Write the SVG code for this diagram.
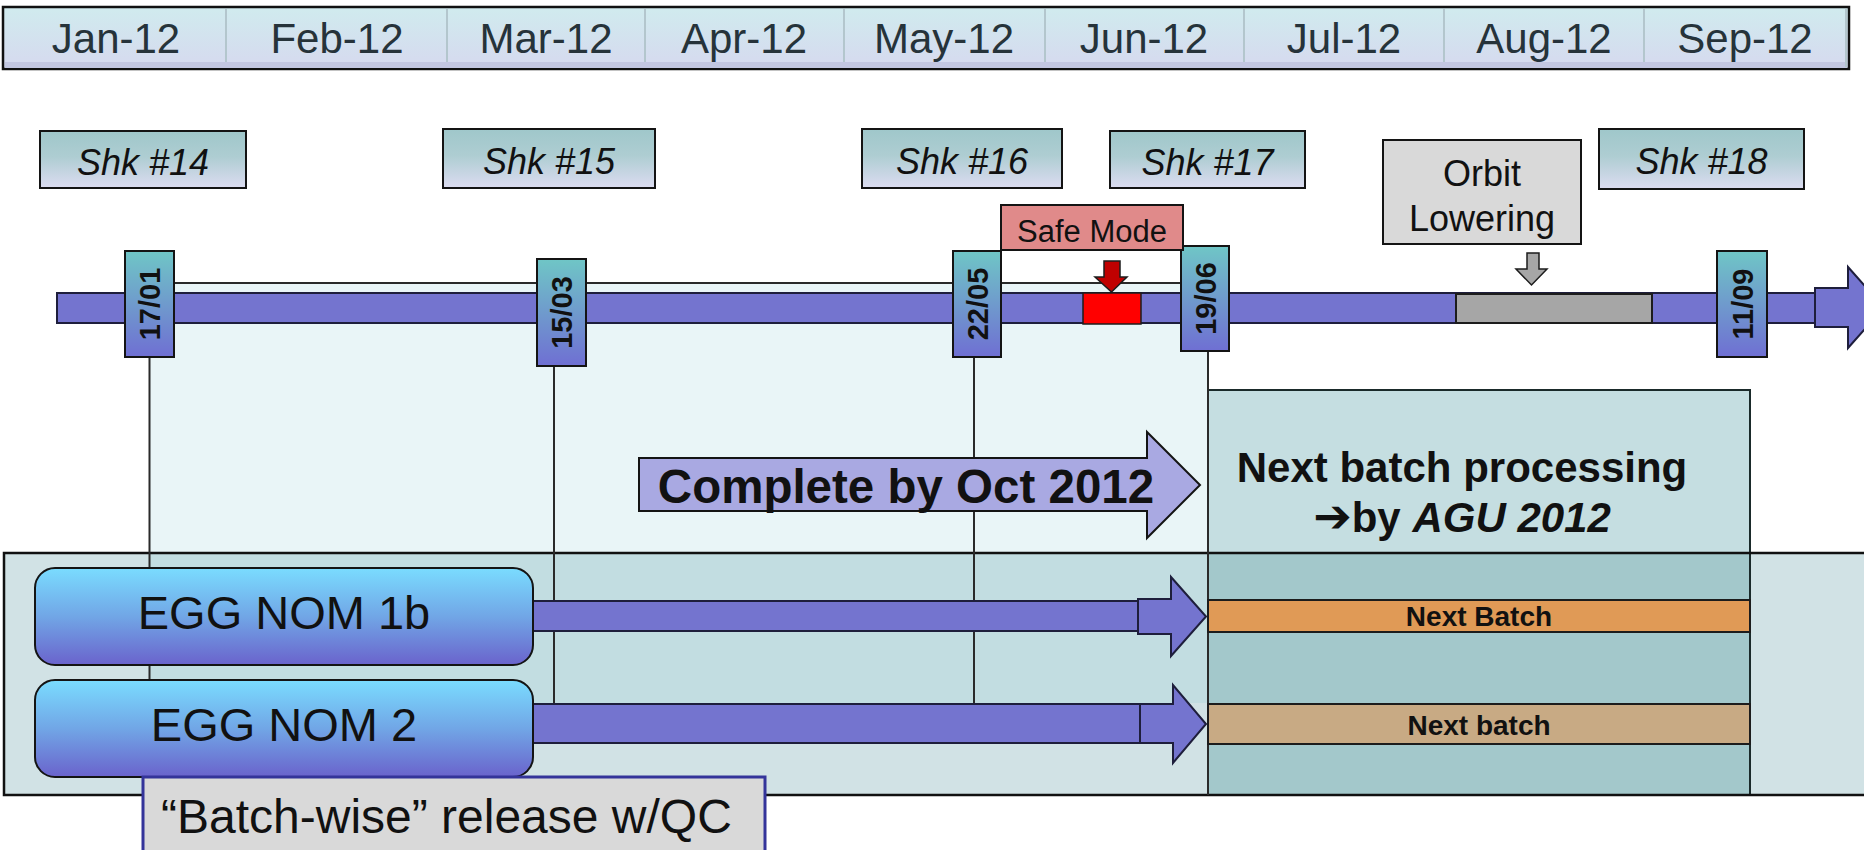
<svg xmlns="http://www.w3.org/2000/svg" width="1864" height="850" viewBox="0 0 1864 850">
  <defs>
    <linearGradient id="gHeader" x1="0" y1="0" x2="0" y2="1">
      <stop offset="0" stop-color="#d0ebee"/>
      <stop offset="1" stop-color="#d6d9ef"/>
    </linearGradient>
    <linearGradient id="gShk" x1="0" y1="0" x2="0" y2="1">
      <stop offset="0" stop-color="#9fc7ca"/>
      <stop offset="0.45" stop-color="#aecdd2"/>
      <stop offset="1" stop-color="#dcdcf1"/>
    </linearGradient>
    <linearGradient id="gTag" x1="0" y1="0" x2="0" y2="1">
      <stop offset="0" stop-color="#6fc6c6"/>
      <stop offset="1" stop-color="#6f6fd3"/>
    </linearGradient>
    <linearGradient id="gEgg" x1="0" y1="0" x2="0" y2="1">
      <stop offset="0" stop-color="#7adcff"/>
      <stop offset="0.5" stop-color="#71a6e6"/>
      <stop offset="1" stop-color="#6a63cc"/>
    </linearGradient>
  </defs>
  <style>
    text { font-family: "Liberation Sans", Arial, Helvetica, sans-serif; }
    .month { font-size: 42px; fill: #26333a; text-anchor: middle; }
    .sep { stroke: #b3c6cd; stroke-width: 2; }
    .shk rect { fill: url(#gShk); stroke: #141414; stroke-width: 2; }
    .shk text { font-size: 36px; font-style: italic; text-anchor: middle; fill: #111; }
    .tag rect { fill: url(#gTag); stroke: #141414; stroke-width: 2; }
    .tag text { font-size: 29px; font-weight: bold; text-anchor: middle; fill: #111; }
    .vline { stroke: #2a2a2a; stroke-width: 2; fill: none; }
    .bar { fill: #7474cf; stroke: #1e1e3c; stroke-width: 2; }
    .box { stroke: #141414; stroke-width: 2; }
    .label { fill: #111; text-anchor: middle; }
    .arrowglyph { font-family: "DejaVu Sans", sans-serif; font-size: 46px; }
    .egg rect { fill: url(#gEgg); stroke: #141414; stroke-width: 2; }
    .egg text { font-size: 47px; text-anchor: middle; fill: #111; }
    .batch rect { stroke: #1c1c1c; stroke-width: 2; }
    .batch text { font-size: 28px; font-weight: bold; text-anchor: middle; fill: #111; }
  </style>

  <!-- month header -->
  <g id="header">
    <rect x="3" y="7" width="1846" height="62" fill="url(#gHeader)" stroke="#111" stroke-width="2.5"/>
    <rect x="5" y="62" width="1842" height="6" fill="#c3c7e1"/>
    <line class="sep" x1="226" y1="9" x2="226" y2="62"/>
    <line class="sep" x1="447" y1="9" x2="447" y2="62"/>
    <line class="sep" x1="645" y1="9" x2="645" y2="62"/>
    <line class="sep" x1="844" y1="9" x2="844" y2="62"/>
    <line class="sep" x1="1045" y1="9" x2="1045" y2="62"/>
    <line class="sep" x1="1244" y1="9" x2="1244" y2="62"/>
    <line class="sep" x1="1444" y1="9" x2="1444" y2="62"/>
    <line class="sep" x1="1644" y1="9" x2="1644" y2="62"/>
    <line class="sep" x1="1846" y1="9" x2="1846" y2="67"/>
    <text class="month" x="116" y="53">Jan-12</text>
    <text class="month" x="337" y="53">Feb-12</text>
    <text class="month" x="546" y="53">Mar-12</text>
    <text class="month" x="744" y="53">Apr-12</text>
    <text class="month" x="944" y="53">May-12</text>
    <text class="month" x="1144" y="53">Jun-12</text>
    <text class="month" x="1344" y="53">Jul-12</text>
    <text class="month" x="1544" y="53">Aug-12</text>
    <text class="month" x="1745" y="53">Sep-12</text>
  </g>

  <!-- background panels -->
  <g id="lower-panel">
    <rect x="4" y="553" width="1870" height="242" fill="#d1e2e5"/>
  </g>
  <g id="release-window">
    <rect x="150" y="283" width="1058" height="420" fill="#7fc4cf" fill-opacity="0.17"/>
  </g>
  <g id="next-batch-column">
    <rect x="1208" y="390" width="542" height="163" fill="#c5dee1"/>
    <rect x="1208" y="553" width="542" height="242" fill="#a3c8cb"/>
    <rect x="1208" y="390" width="542" height="405" fill="none" stroke="#1a2a2a" stroke-width="2"/>
    <text class="label" x="1462" y="482" font-size="42" font-weight="bold">Next batch processing</text>
    <text class="label" x="1462" y="532" font-size="42" font-weight="bold"><tspan class="arrowglyph">➔</tspan>by <tspan font-style="italic">AGU 2012</tspan></text>
  </g>
  <path d="M1874 553 H4 V795 H1874" fill="none" stroke="#111" stroke-width="2.5"/>

  <!-- connectors: tie lines, timeline, event pointers, flows -->
  <g id="connectors">
    <line class="vline" x1="150" y1="283" x2="1208" y2="283"/>
    <line class="vline" x1="149.5" y1="357" x2="149.5" y2="795"/>
    <line class="vline" x1="554" y1="366" x2="554" y2="704"/>
    <line class="vline" x1="974" y1="357" x2="974" y2="704"/>
    <line class="vline" x1="1208" y1="351" x2="1208" y2="795"/>

    <!-- timeline -->
    <rect class="bar" x="57" y="293" width="1758" height="30"/>
    <rect x="1456" y="294" width="196" height="29" fill="#a6a6a6" stroke="#1c1c1c" stroke-width="2"/>
    <rect x="1083" y="293" width="58" height="31" fill="#ff0000" stroke="#1c1c1c" stroke-width="1.5"/>
    <polygon class="bar" points="1815,288 1848,288 1848,267 1884,307.5 1848,348 1848,327 1815,327"/>

    <!-- event pointers -->
    <polygon points="1104,261 1120,261 1120,277 1127,277 1111.5,292 1095,277 1104,277" fill="#c00000" stroke="#1c1c1c" stroke-width="1.5"/>
    <polygon points="1527,253 1539,253 1539,269 1547,269 1531.5,285 1516,269 1527,269" fill="#a6a6a6" stroke="#1c1c1c" stroke-width="1.5"/>

    <!-- processing flows -->
    <rect class="bar" x="520" y="601" width="620" height="30"/>
    <polygon class="bar" points="1138,599 1171,599 1171,577 1206,616.5 1171,656 1171,634 1138,634"/>
    <rect class="bar" x="520" y="704" width="622" height="39"/>
    <polygon class="bar" points="1140,704 1173,704 1173,685 1206,724 1173,763 1173,743 1140,743"/>
  </g>

  <!-- date markers -->
  <g id="tag-1701" class="tag">
    <rect x="125" y="251" width="49" height="106"/>
    <text x="149.5" y="314.5" transform="rotate(-90 149.5 304)">17/01</text>
  </g>
  <g id="tag-1503" class="tag">
    <rect x="537" y="259" width="49" height="107"/>
    <text x="561.5" y="323" transform="rotate(-90 561.5 312.5)">15/03</text>
  </g>
  <g id="tag-2205" class="tag">
    <rect x="953" y="251" width="48" height="106"/>
    <text x="977" y="314.5" transform="rotate(-90 977 304)">22/05</text>
  </g>
  <g id="tag-1906" class="tag">
    <rect x="1181" y="246" width="48" height="105"/>
    <text x="1205" y="309" transform="rotate(-90 1205 298.5)">19/06</text>
  </g>
  <g id="tag-1109" class="tag">
    <rect x="1717" y="251" width="50" height="106"/>
    <text x="1742" y="314.5" transform="rotate(-90 1742 304)">11/09</text>
  </g>

  <!-- campaign labels -->
  <g id="shk-14" class="shk">
    <rect x="40" y="131" width="206" height="57"/>
    <text x="143" y="175">Shk #14</text>
  </g>
  <g id="shk-15" class="shk">
    <rect x="443" y="129" width="212" height="59"/>
    <text x="549" y="174">Shk #15</text>
  </g>
  <g id="shk-16" class="shk">
    <rect x="862" y="129" width="200" height="59"/>
    <text x="962" y="174">Shk #16</text>
  </g>
  <g id="shk-17" class="shk">
    <rect x="1110" y="131" width="195" height="57"/>
    <text x="1207.5" y="175">Shk #17</text>
  </g>
  <g id="shk-18" class="shk">
    <rect x="1599" y="129" width="205" height="60"/>
    <text x="1701.5" y="174">Shk #18</text>
  </g>

  <!-- events -->
  <g id="safe-mode">
    <rect class="box" x="1001" y="205" width="182" height="45" fill="#e08a8a"/>
    <text class="label" x="1092" y="242" font-size="31">Safe Mode</text>
  </g>
  <g id="orbit-lowering">
    <rect class="box" x="1383" y="140" width="198" height="104" fill="#d9d9d9"/>
    <text class="label" x="1482" y="186" font-size="36">Orbit</text>
    <text class="label" x="1482" y="231" font-size="36">Lowering</text>
  </g>

  <!-- target callout -->
  <g id="complete-by">
    <polygon points="639,458 1147,458 1147,432 1200,485 1147,538 1147,511 639,511" fill="#a9a9e2" stroke="#141414" stroke-width="2"/>
    <text class="label" x="906" y="503" font-size="47.5" font-weight="bold">Complete by Oct 2012</text>
  </g>

  <!-- next batch bars -->
  <g id="next-batch-1b" class="batch">
    <rect x="1208" y="600" width="542" height="32" fill="#e09a56"/>
    <text x="1479" y="626">Next Batch</text>
  </g>
  <g id="next-batch-2" class="batch">
    <rect x="1208" y="704" width="542" height="40" fill="#c8aa84"/>
    <text x="1479" y="735">Next batch</text>
  </g>

  <!-- products -->
  <g id="egg-nom-1b" class="egg">
    <rect x="35" y="568" width="498" height="97" rx="20"/>
    <text x="284" y="629">EGG NOM 1b</text>
  </g>
  <g id="egg-nom-2" class="egg">
    <rect x="35" y="680" width="498" height="97" rx="20"/>
    <text x="284" y="741">EGG NOM 2</text>
  </g>

  <!-- release note -->
  <g id="release-note">
    <rect x="143" y="777" width="622" height="90" fill="#d9d9d9" stroke="#34349a" stroke-width="3"/>
    <text x="161" y="833" font-size="48" fill="#111">“Batch-wise” release w/QC</text>
  </g>
</svg>
